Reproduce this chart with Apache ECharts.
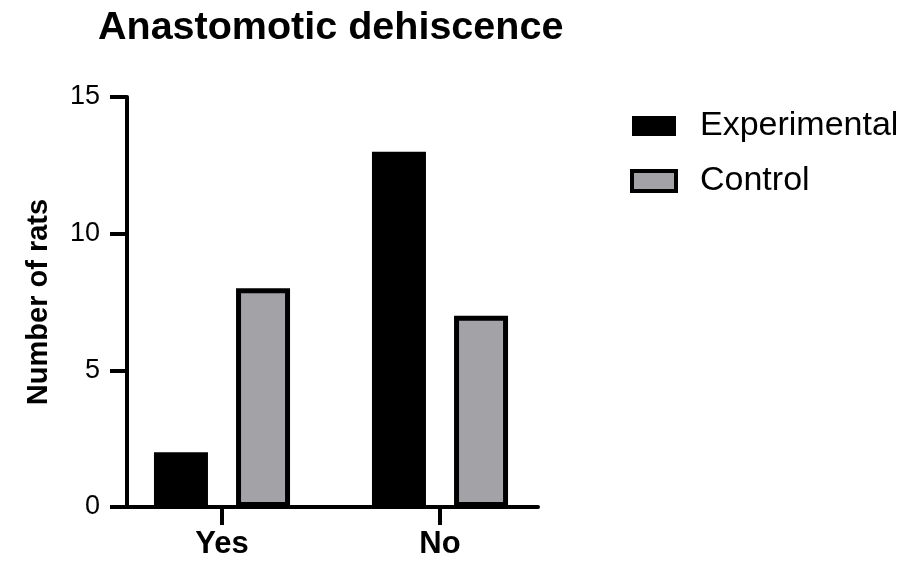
<!DOCTYPE html>
<html>
<head>
<meta charset="utf-8">
<script src="https://cdn.jsdelivr.net/npm/echarts@6/dist/echarts.min.js"></script>
<style>
  html, body { margin: 0; padding: 0; background: #fff; }
  #main { width: 907px; height: 561px; }
</style>
</head>
<body>
<div id="main"></div>
<script>
// data
var categories = ["Yes", "No"];
var experimental = [2, 13];
var control = [8, 7];
var yTicks = [0, 5, 10, 15];

var FONT = "'Liberation Sans', Arial, sans-serif";

// bars sit on a numeric x axis at 0, 1 so the axis line can run past the groups
function toPoints(vals) {
  return vals.map(function (v, i) { return [i, v]; });
}

var chart = echarts.init(document.getElementById("main"));
chart.setOption({
  animation: false,
  backgroundColor: "#fff",
  title: {
    text: "Anastomotic dehiscence",
    left: 93,
    top: 3,
    textStyle: { fontFamily: FONT, fontSize: 39.5, fontWeight: "bold", color: "#000" }
  },
  legend: {
    orient: "vertical",
    left: 630,
    top: 109,
    padding: 0,
    icon: "rect",
    itemWidth: 44,
    itemHeight: 20,
    itemGap: 21,
    textStyle: { fontFamily: FONT, fontSize: 34, color: "#000", padding: [0, 0, 0, 19] },
    data: [
      { name: "Experimental", itemStyle: { borderWidth: 0 } },
      { name: "Control", itemStyle: { borderWidth: 4, borderColor: "#000" } }
    ]
  },
  grid: { left: 127, right: 369, top: 97, bottom: 54 },
  xAxis: {
    type: "value",
    min: -0.4358,
    max: 1.4495,
    splitLine: { show: false },
    axisLine: { show: true, onZero: false, lineStyle: { color: "#000", width: 4 } },
    axisTick: {
      show: true,
      length: 18,
      customValues: [0, 1],
      lineStyle: { color: "#000", width: 4 }
    },
    axisLabel: {
      customValues: [0, 1],
      margin: 22,
      fontFamily: FONT,
      fontSize: 31,
      fontWeight: "bold",
      color: "#000",
      formatter: function (v) { return categories[Math.round(v)]; }
    }
  },
  yAxis: {
    type: "value",
    min: yTicks[0],
    max: yTicks[yTicks.length - 1],
    interval: 5,
    name: "Number of rats",
    nameLocation: "middle",
    nameRotate: 90,
    nameGap: 74,
    nameTextStyle: { fontFamily: FONT, fontSize: 29, fontWeight: "bold", color: "#000" },
    splitLine: { show: false },
    axisLine: { show: true, onZero: false, lineStyle: { color: "#000", width: 4 } },
    axisTick: { show: true, length: 17, lineStyle: { color: "#000", width: 4 } },
    axisLabel: { margin: 27, fontFamily: FONT, fontSize: 27, color: "#000" }
  },
  series: [
    {
      name: "Experimental",
      type: "bar",
      barWidth: 54,
      barGap: "52%",
      itemStyle: { color: "#000", borderColor: "#000", borderWidth: 5 },
      data: toPoints(experimental)
    },
    {
      name: "Control",
      type: "bar",
      barWidth: 54,
      barGap: "52%",
      itemStyle: { color: "#a3a3a7", borderColor: "#000", borderWidth: 5 },
      data: toPoints(control)
    }
  ]
});
</script>
</body>
</html>
